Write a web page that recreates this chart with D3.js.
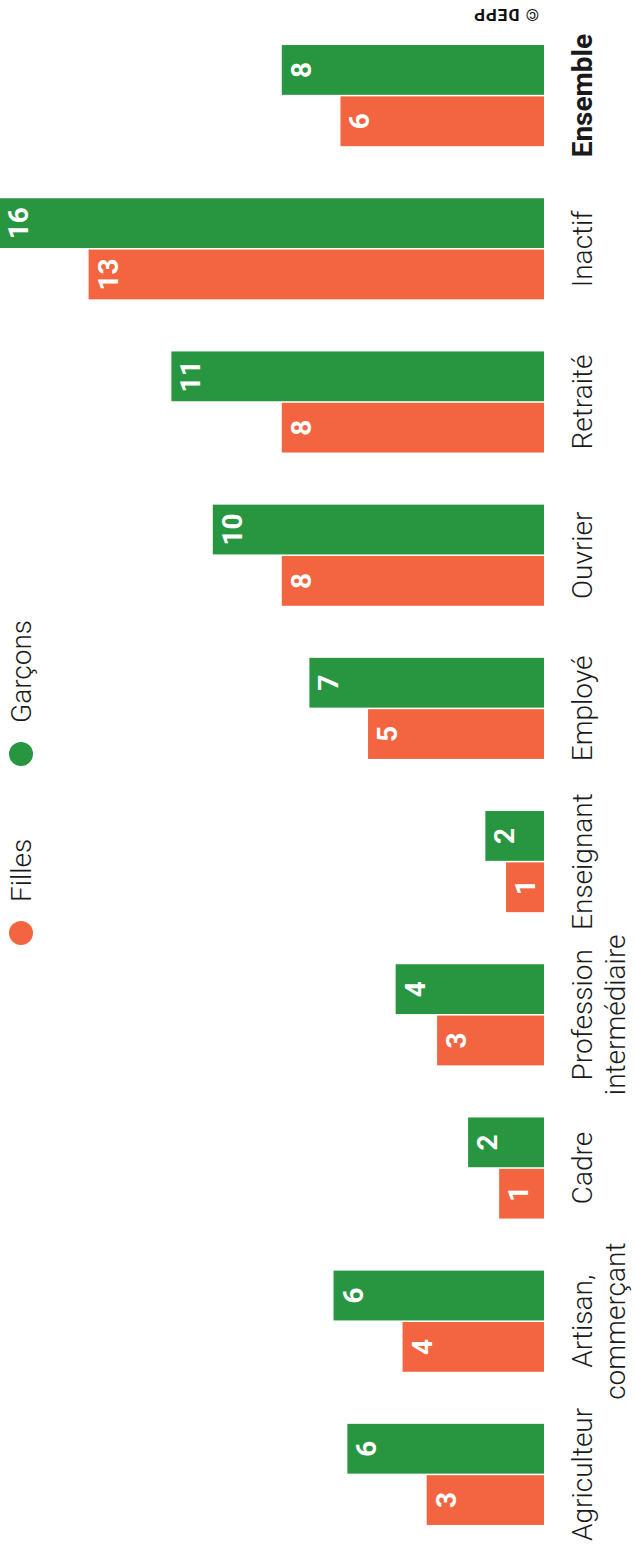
<!DOCTYPE html>
<html>
<head>
<meta charset="utf-8">
<script src="https://cdn.jsdelivr.net/npm/d3@7"></script>
<style>
  html, body { margin: 0; padding: 0; background: #fff; }
  svg { display: block; font-family: Roboto, "Noto Sans", sans-serif; }
</style>
</head>
<body>
<div id="chart"></div>
<script>
// categories (left to right in the unrotated chart)
var categories = ["Agriculteur", "Artisan, commerçant", "Cadre", "Profession intermédiaire",
  "Enseignant", "Employé", "Ouvrier", "Retraité", "Inactif", "Ensemble"];
var categoryLines = [["Agriculteur"], ["Artisan,", "commerçant"], ["Cadre"],
  ["Profession", "intermédiaire"], ["Enseignant"], ["Employé"], ["Ouvrier"],
  ["Retraité"], ["Inactif"], ["Ensemble"]];

// series values (%)
var series = ["Filles", "Garçons"];
var filles = [3.4, 4.1, 1.3, 3.1, 1.1, 5.1, 7.6, 7.6, 13.2, 5.9];
var garcons = [5.7, 6.1, 2.2, 4.3, 1.7, 6.8, 9.6, 10.8, 15.9, 7.6];
var colors = { "Filles": "#f26540", "Garçons": "#289640" };

var W = 635, H = 1552;

var svg = d3.select("#chart").append("svg")
  .attr("width", W)
  .attr("height", H);

// the whole chart is drawn turned a quarter turn to the left
var g = svg.append("g")
  .attr("transform", "translate(0," + H + ") rotate(-90)");

var x = d3.scaleBand()
  .domain(categories)
  .range([1, 1533])
  .paddingInner(0.34)
  .paddingOuter(0.17);

var xSub = d3.scaleBand()
  .domain(series)
  .range([0, x.bandwidth()])
  .paddingInner(0.03);

var y = d3.scaleLinear()
  .domain([0, 16])
  .range([544, -8]);

var rows = [];
categories.forEach(function (c, i) {
  rows.push({ cat: c, key: "Filles", val: filles[i] });
  rows.push({ cat: c, key: "Garçons", val: garcons[i] });
});

// bars
g.selectAll(".bar")
  .data(rows)
  .enter().append("rect")
  .attr("class", "bar")
  .attr("x", function (d) { return x(d.cat) + xSub(d.key); })
  .attr("y", function (d) { return y(d.val); })
  .attr("width", xSub.bandwidth())
  .attr("height", function (d) { return y(0) - y(d.val); })
  .attr("fill", function (d) { return colors[d.key]; });

// value labels inside the bars (kept inside the picture for the longest bar)
g.selectAll(".val")
  .data(rows)
  .enter().append("text")
  .attr("class", "val")
  .attr("x", function (d) { return x(d.cat) + xSub(d.key) + xSub.bandwidth() / 2; })
  .attr("y", function (d) { return Math.max(y(d.val), -1) + 29; })
  .attr("text-anchor", "middle")
  .attr("fill", "#fff")
  .style("font-size", "28px")
  .style("font-weight", "700")
  .text(function (d) { return Math.round(d.val); });

// category axis
var axis = g.append("g")
  .attr("transform", "translate(0," + y(0) + ")")
  .call(d3.axisBottom(x).tickSize(0));
axis.select(".domain").remove();
axis.selectAll(".tick text").each(function (d, i) {
  var t = d3.select(this);
  var lines = categoryLines[categories.indexOf(d)];
  t.text(null)
    .attr("y", 48)
    .attr("dy", null)
    .attr("fill", "#1a1a1a")
    .style("font-family", "Roboto, sans-serif")
    .style("font-size", "28px")
    .style("font-weight", d === "Ensemble" ? "700" : "300");
  lines.forEach(function (l, j) {
    t.append("tspan")
      .attr("x", 0)
      .attr("dy", j === 0 ? 0 : 33)
      .text(l);
  });
});

// legend
var legendX = [619, 798];
var legend = g.selectAll(".legend")
  .data(series)
  .enter().append("g")
  .attr("class", "legend")
  .attr("transform", function (d, i) { return "translate(" + legendX[i] + ",21)"; });
legend.append("circle")
  .attr("r", 12)
  .attr("fill", function (d) { return colors[d]; });
legend.append("text")
  .attr("x", 31)
  .attr("y", 10)
  .attr("fill", "#1a1a1a")
  .style("font-size", "28px")
  .style("font-weight", "300")
  .text(function (d) { return d; });

// credit
svg.append("text")
  .attr("transform", "translate(506,8.5) rotate(180)")
  .attr("text-anchor", "middle")
  .attr("fill", "#111")
  .style("font-size", "17px")
  .style("font-weight", "700")
  .style("letter-spacing", "1px")
  .text("© DEPP");
</script>
</body>
</html>
